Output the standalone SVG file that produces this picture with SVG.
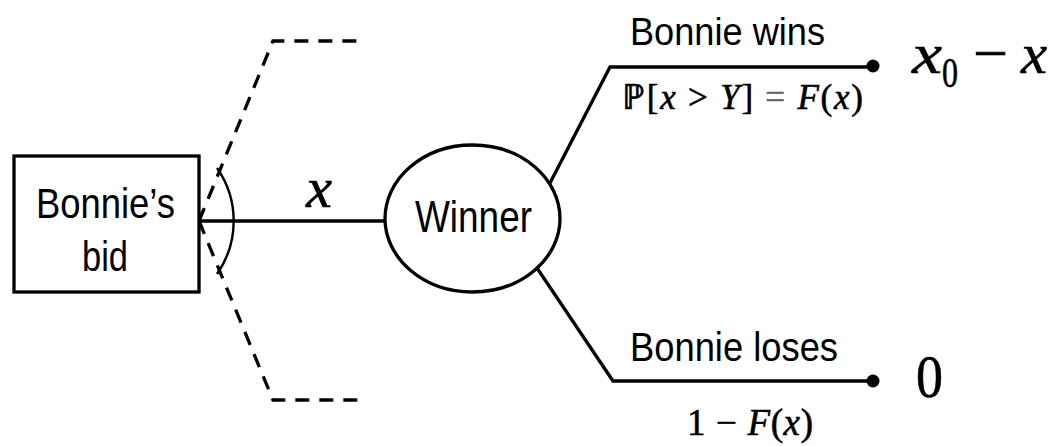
<svg xmlns="http://www.w3.org/2000/svg" width="1049" height="446" viewBox="0 0 1049 446">
<style>
.ln{fill:none;stroke:#000;stroke-width:3.3}
.dash{fill:none;stroke:#000;stroke-width:3.3;stroke-dasharray:14 10}
.lbl{font-family:"Liberation Sans",Arial,sans-serif;fill:#000}
.math{font-family:"Liberation Serif","Times New Roman",serif;fill:#000;stroke:#000;stroke-width:0.6}
.it{font-style:italic}
</style>
<rect width="1049" height="446" fill="#fff"/>
<g id="connectors">
<path class="dash" d="M199,221 L273,41 L359,41"/>
<path class="dash" d="M199,221 L273,400 L359,400"/>
<path d="M217,168 A92.5,92.5 0 0 1 217,274" fill="none" stroke="#000" stroke-width="2.4"/>
<line class="ln" x1="199" y1="221" x2="385" y2="221"/>
<path class="ln" d="M550,183 L610,67 L873,67"/>
<path class="ln" d="M537,268 L613,381 L873,381"/>
<circle cx="873" cy="66" r="6.5" fill="#000"/>
<circle cx="873" cy="381" r="6.5" fill="#000"/>
<text class="math it" x="306" y="207" font-size="56" textLength="26" lengthAdjust="spacingAndGlyphs">x</text>
<text class="lbl" x="630" y="45" font-size="38" textLength="195" lengthAdjust="spacingAndGlyphs">Bonnie wins</text>
<text class="math" x="622" y="109" font-size="35" textLength="241" lengthAdjust="spacing">ℙ[<tspan class="it">x</tspan> &gt; <tspan class="it">Y</tspan>] <tspan fill="#666" stroke="#666">=</tspan> <tspan class="it">F</tspan>(<tspan class="it">x</tspan>)</text>
<text class="lbl" x="630" y="361" font-size="40" textLength="208" lengthAdjust="spacingAndGlyphs">Bonnie loses</text>
<text class="math" x="687" y="435" font-size="37" textLength="126" lengthAdjust="spacing">1 − <tspan class="it">F</tspan>(<tspan class="it">x</tspan>)</text>
</g>
<g id="node-bid">
<rect x="14" y="156" width="185" height="136" fill="#fff" stroke="#000" stroke-width="3.3"/>
<text class="lbl" x="36" y="218" font-size="42" textLength="139" lengthAdjust="spacingAndGlyphs">Bonnie’s</text>
<text class="lbl" x="82" y="271" font-size="42" textLength="46" lengthAdjust="spacingAndGlyphs">bid</text>
</g>
<g id="node-winner">
<ellipse cx="472.5" cy="218.5" rx="87.5" ry="73.5" fill="#fff" stroke="#000" stroke-width="3.3"/>
<text class="lbl" x="415" y="232" font-size="44" textLength="117" lengthAdjust="spacingAndGlyphs">Winner</text>
</g>
<g id="payoff-win">
<text class="math it" x="912" y="73" font-size="58" textLength="30" lengthAdjust="spacingAndGlyphs">x</text>
<text class="math" x="942" y="87" font-size="42" textLength="16" lengthAdjust="spacingAndGlyphs">0</text>
<text class="math" x="973" y="73" font-size="58" textLength="35" lengthAdjust="spacingAndGlyphs">−</text>
<text class="math it" x="1021" y="73" font-size="58" textLength="26" lengthAdjust="spacingAndGlyphs">x</text>
</g>
<g id="payoff-lose">
<text class="math" x="916" y="397" font-size="61" textLength="27" lengthAdjust="spacingAndGlyphs">0</text>
</g>
</svg>
